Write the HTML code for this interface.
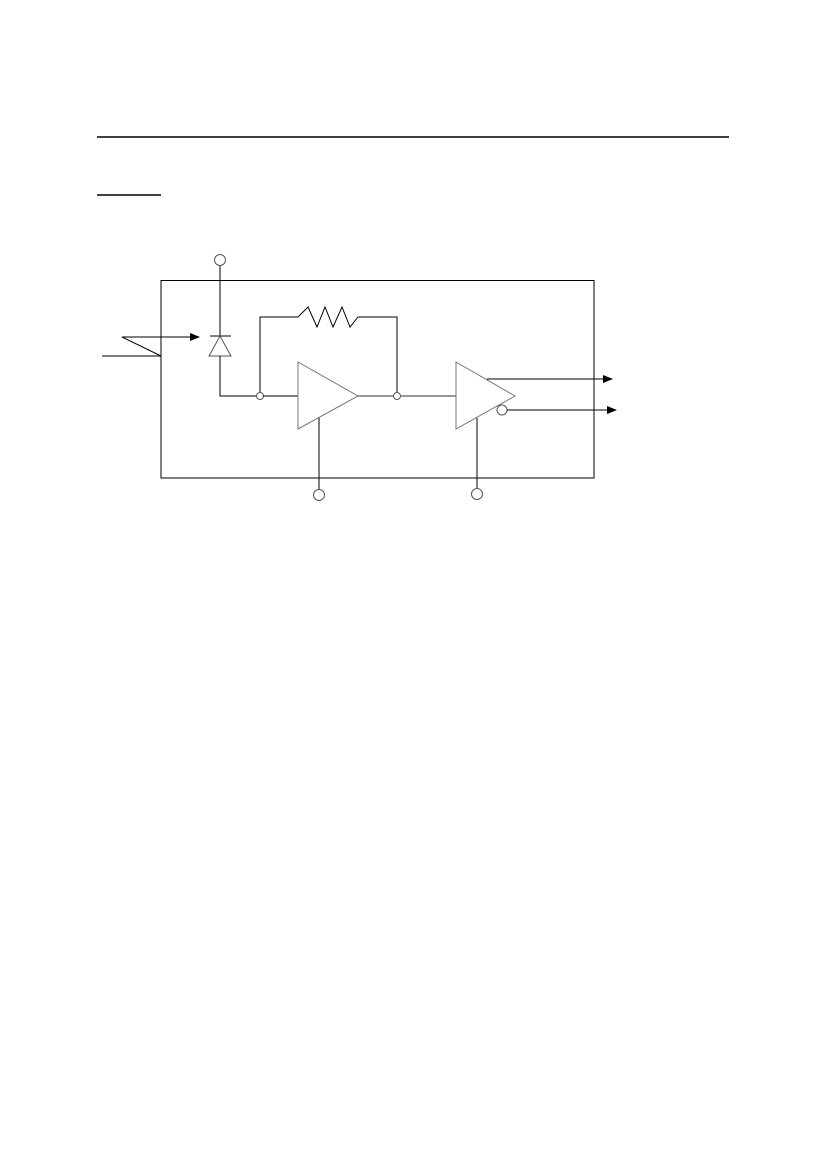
<!DOCTYPE html>
<html><head><meta charset="utf-8"><style>html,body{margin:0;padding:0;background:#fff}svg{display:block}</style></head>
<body>
<svg width="826" height="1169" viewBox="0 0 826 1169" xmlns="http://www.w3.org/2000/svg">
<defs><marker id="a" markerWidth="10" markerHeight="8" refX="9" refY="4" orient="auto" markerUnits="userSpaceOnUse"><path d="M0,0 L10,4 L0,8 z" fill="#000"/></marker></defs>
<line x1="97" y1="137" x2="729" y2="137" stroke="#000" stroke-width="1.5"/>
<line x1="97" y1="195" x2="161" y2="195" stroke="#000" stroke-width="1.5"/>
<rect x="161" y="280.5" width="433" height="197.5" fill="none" stroke="#000" stroke-width="1"/>
<g fill="none" stroke="#000" stroke-width="1">
<circle cx="220" cy="260" r="5.5" stroke="#555"/>
<line x1="220" y1="266" x2="220" y2="336"/>
<line x1="210" y1="336" x2="231" y2="336"/>
<polygon points="220,336 209,356 231,356" stroke="#555"/>
<polyline points="220,356 220,396 257,396"/>
<circle cx="260" cy="396" r="3.5" stroke="#555"/>
<polyline points="260,392 260,317 298,317 308,307 317,327 325,307 333,327 342,307 350,327 358,317 397,317 397,392"/>
<line x1="263" y1="396" x2="298" y2="396"/>
<polygon points="298,362 358,396 298,429" stroke="#777"/>
<line x1="358" y1="396" x2="394" y2="396" stroke="#777" stroke-width="1.5"/>
<circle cx="397" cy="396" r="3.5" stroke="#555"/>
<line x1="400" y1="396" x2="456" y2="396" stroke="#777" stroke-width="1.5"/>
<line x1="319" y1="418" x2="319" y2="489"/>
<circle cx="319" cy="495" r="5.5" stroke="#555"/>
<polygon points="456,362 515,396 456,429" stroke="#777"/>
<line x1="487" y1="379" x2="612" y2="379" marker-end="url(#a)"/>
<circle cx="502" cy="410" r="5" stroke="#555"/>
<line x1="507" y1="410" x2="616" y2="410" marker-end="url(#a)"/>
<line x1="477" y1="418" x2="477" y2="488"/>
<circle cx="477" cy="494" r="5.5" stroke="#555"/>
<line x1="102" y1="356" x2="161" y2="356"/>
<polyline points="161,356 122,337 199,337" marker-end="url(#a)"/>
</g>
</svg>
</body></html>
